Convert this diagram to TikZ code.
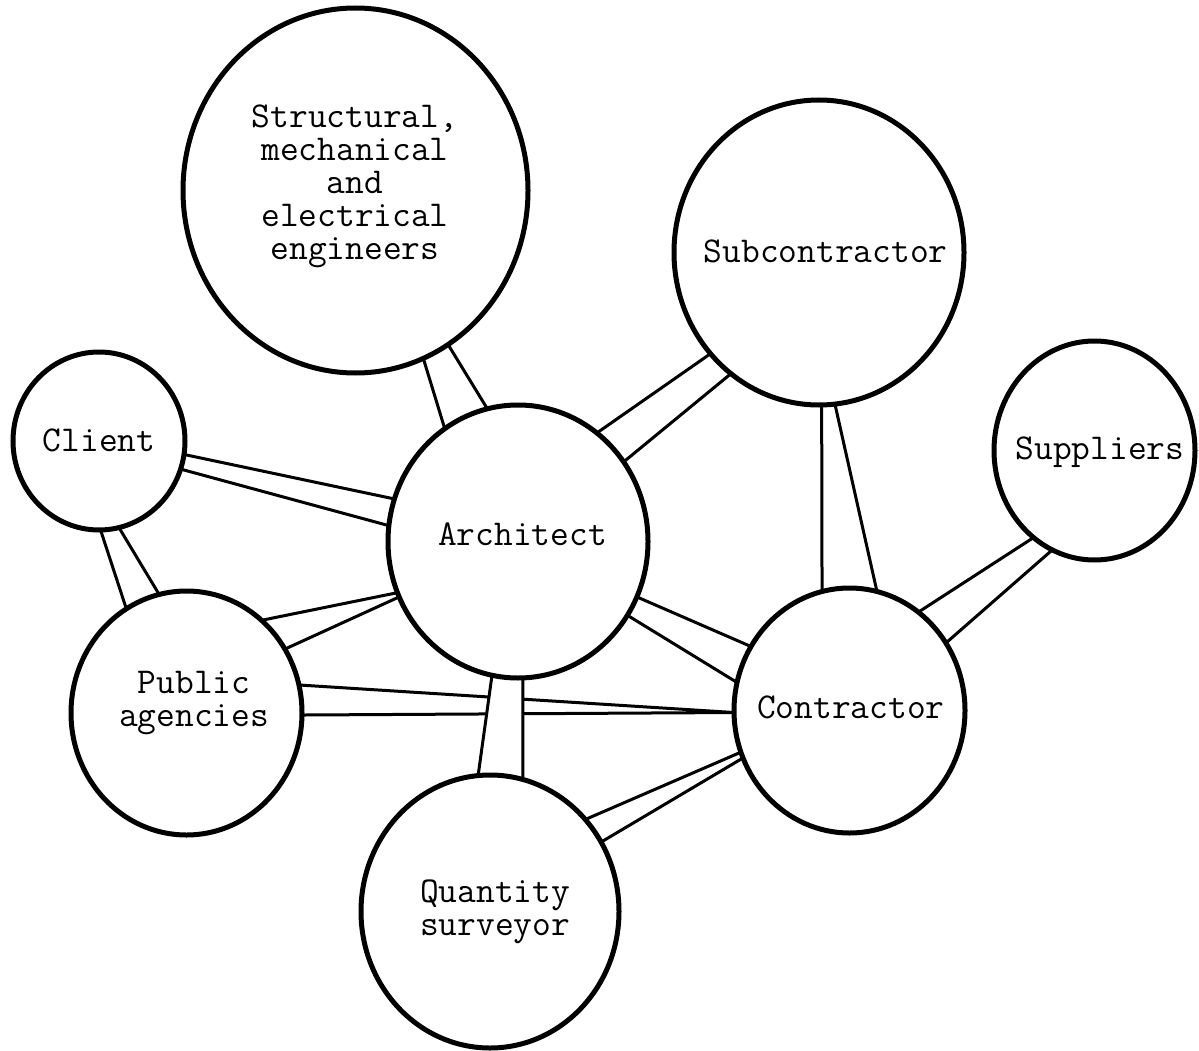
\documentclass[tikz,border=0pt]{standalone}
\usepackage{fontspec}
\usetikzlibrary{shapes.geometric}
\pgfdeclarelayer{bands}
\pgfsetlayers{bands,main}

% A band of two lines between two circles: node A, its two angles, node B, its two angles.
\newcommand{\tieband}[6]{%
  \begin{pgfonlayer}{bands}
    \fill[white] (#1.#2) -- (#4.#5) -- (#4.#6) -- (#1.#3) -- cycle;
    \draw[tie] (#1.#2) -- (#4.#5) (#1.#3) -- (#4.#6);
  \end{pgfonlayer}}

\begin{document}
\begin{tikzpicture}[x=1pt,y=-1pt,
  hub/.style={ellipse, draw, line width=5pt, fill=white, inner sep=0pt, outer sep=0pt},
  tie/.style={line width=3pt, line cap=butt},
  lbl/.style={font=\ttfamily\fontsize{36.4}{33}\selectfont, align=center, anchor=base, inner sep=0pt}]
\begin{pgfonlayer}{bands}
  \fill[white] (0,0) rectangle (1199,1051);
\end{pgfonlayer}
\useasboundingbox (0,0) rectangle (1199,1051);

% circles
\node[hub, minimum width=345pt, minimum height=365pt] (eng)  at (355.5,190.5) {};
\node[hub, minimum width=290pt, minimum height=305pt] (sub)  at (819,252.5) {};
\node[hub, minimum width=172pt, minimum height=178pt] (cli)  at (99,441) {};
\node[hub, minimum width=201pt, minimum height=219pt] (sup)  at (1094.5,450.5) {};
\node[hub, minimum width=260pt, minimum height=273pt] (arch) at (518,541.5) {};
\node[hub, minimum width=231pt, minimum height=244pt] (pa)   at (186.5,713) {};
\node[hub, minimum width=231pt, minimum height=245pt] (con)  at (849.5,710.5) {};
\node[hub, minimum width=258pt, minimum height=273pt] (qs)   at (490,911.5) {};

% labels (anchored at the baseline of the last line)
\node[lbl] (engT)  at (355,259.5) {Structural,\\mechanical\\and\\electrical\\engineers};
\node[lbl] (subT)  at (825.8,262.7) {Subcontractor};
\node[lbl] (cliT)  at (99.2,451.7) {Client};
\node[lbl] (supT)  at (1100,459.3) {Suppliers};
\node[lbl] (archT) at (522.5,545.7) {Architect};
\node[lbl] (paT)   at (194.2,726) {Public\\agencies};
\node[lbl] (conT)  at (850.8,718.3) {Contractor};
\node[lbl] (qsT)   at (495,935.7) {Quantity\\surveyor};

% bands
\tieband{eng}{-68.0}{-59.7}{arch}{123.0}{103.0}
\tieband{sub}{223.8}{234.4}{arch}{54.3}{37.3}
\tieband{cli}{-9.5}{-19.5}{arch}{161.1}{173.7}
\tieband{cli}{-89.4}{-77.7}{pa}{120.9}{103.3}
\tieband{pa}{51.2}{33.3}{arch}{203.1}{205.2}
\tieband{pa}{14.6}{-1.0}{con}{181.2}{181.4}
\tieband{arch}{-25.2}{-34.0}{con}{147.2}{166.5}
\tieband{sub}{-89.6}{-84.7}{con}{103.8}{77.1}
\tieband{sup}{235.5}{247.4}{con}{55.0}{35.6}
\tieband{arch}{259.5}{-88.3}{qs}{95.0}{76.6}
\tieband{qs}{44.8}{32.7}{con}{201.8}{204.3}
\end{tikzpicture}
\end{document}
